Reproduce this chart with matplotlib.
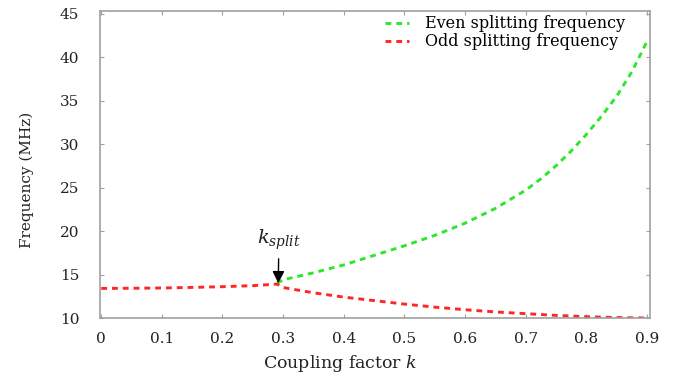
import matplotlib.pyplot as plt

# Data
k_odd = [0.0, 0.05, 0.1, 0.15, 0.2, 0.25, 0.29, 0.3, 0.35, 0.4, 0.45, 0.5,
         0.55, 0.6, 0.65, 0.7, 0.75, 0.8, 0.85, 0.9]
f_odd = [13.4, 13.42, 13.45, 13.52, 13.6, 13.72, 13.9, 13.5, 12.9, 12.4, 12.0,
         11.6, 11.25, 10.95, 10.7, 10.5, 10.3, 10.15, 10.05, 10.0]

k_even = [0.29, 0.3, 0.35, 0.4, 0.45, 0.5, 0.55, 0.6, 0.65, 0.7, 0.725, 0.75,
          0.775, 0.8, 0.825, 0.85, 0.875, 0.9]
f_even = [14.0, 14.4, 15.2, 16.1, 17.2, 18.3, 19.5, 20.9, 22.6, 24.7, 26.0,
          27.5, 29.2, 31.1, 33.2, 35.5, 38.3, 41.8]

x_ticks = [0, 0.1, 0.2, 0.3, 0.4, 0.5, 0.6, 0.7, 0.8, 0.9]
x_labels = ['0', '0.1', '0.2', '0.3', '0.4', '0.5', '0.6', '0.7', '0.8', '0.9']
y_ticks = [10, 15, 20, 25, 30, 35, 40, 45]

plt.rcParams['font.family'] = ['DejaVu Serif']
plt.rcParams['mathtext.fontset'] = 'dejavuserif'

fig = plt.figure(figsize=(6.81, 3.77), dpi=100)
ax = fig.add_axes([100 / 681, 1 - 318 / 377, 550 / 681, 307 / 377])

dash = (0, (2.0, 1.7))
ax.plot(k_even, f_even, color='#2ee62e', linestyle=dash, lw=2.1,
        label='Even splitting frequency')
ax.plot(k_odd, f_odd, color='#ff2626', linestyle=dash, lw=2.1,
        label='Odd splitting frequency')

ax.annotate(r'$k_{split}$', xy=(0.292, 14.0), xytext=(0.293, 19.0),
            ha='center', va='center', fontsize=14, color='#222222',
            arrowprops=dict(arrowstyle='-|>', color='black', lw=1,
                            mutation_scale=18, shrinkA=3, shrinkB=0))

ax.set_xlim(-0.002, 0.905)
ax.set_ylim(10, 45.3)
ax.set_xticks(x_ticks)
ax.set_xticklabels(x_labels)
ax.set_yticks(y_ticks)

for s in ax.spines.values():
    s.set_color('#a0a0a0')
    s.set_linewidth(1.2)
ax.tick_params(direction='in', colors='#a0a0a0', length=3, top=True,
               right=True, labelsize=11, labelcolor='#222222')
ax.tick_params(axis='x', pad=10)
ax.tick_params(axis='y', pad=15)

ax.set_xlabel('Coupling factor $\\mathit{k}$', fontsize=12.5, color='#222222')
ax.xaxis.set_label_coords(0.436, -0.113)
ax.set_ylabel('Frequency (MHz)', fontsize=11, color='#222222')
ax.yaxis.set_label_coords(-0.12, 0.45)

ax.legend(loc='upper left', bbox_to_anchor=(0.503, 1.012), frameon=False,
          fontsize=11.5, borderpad=0, handlelength=1.5, handletextpad=1.0,
          labelspacing=0.05)

fig.savefig('out.png', dpi=100)
